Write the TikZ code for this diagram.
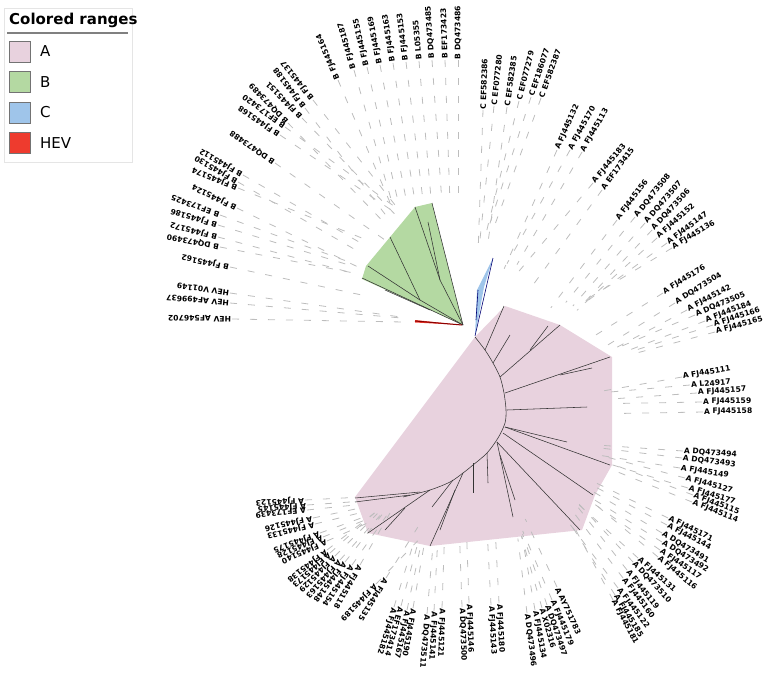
\documentclass[tikz,border=0pt]{standalone}
\usepackage{fontspec}
\setmainfont{DejaVu Sans}
\usetikzlibrary{calc}
\definecolor{cA}{HTML}{E8D2DE}
\definecolor{cB}{HTML}{B4D9A2}
\definecolor{cC}{HTML}{9FC5EA}
\definecolor{cH}{HTML}{EE3B2E}
\definecolor{leadc}{HTML}{BDBDBD}
\begin{document}
\begin{tikzpicture}[x=1pt,y=-1pt,
  lbl/.style={font=\bfseries\fontsize{7.6}{8}\selectfont, inner sep=0.8pt, anchor=west},
  leader/.style={draw=leadc, line width=0.8pt, dash pattern=on 7pt off 11pt},
  br/.style={draw=black!80, line width=0.55pt},
  swatch/.style={draw=black!55, line width=0.6pt, minimum size=21pt, inner sep=0pt},
  legtext/.style={anchor=west, font=\fontsize{15}{16}\selectfont, inner sep=0pt}
 ]
\useasboundingbox (0,0) rectangle (767,672);
% ---------------- colored ranges
\fill[cA] (475,337) -- (505,306) -- (560,325) -- (612,357) -- (612,465) -- (595,495) -- (582,530) -- (430,546) -- (368,533) -- (355,497) -- cycle;
\fill[cB] (463,325) -- (362,279) -- (366,266) -- (415,207) -- (432,203) -- cycle;
\fill[cC] (475,336) -- (477,290) -- (493,258) -- (484,287) -- cycle;
\fill[cH] (462,325) -- (415,320) -- (415,322.5) -- cycle;
% ---------------- labels
\foreach \px/\py/\a/\l/\t [count=\i] in {
483/110/88/135/C EF582386,
494/106/84/135/C EF077280,
507/107/82/135/C EF582385,
519/101/76/135/C EF077279,
531/97/72/135/C EF186077,
541/98/70/135/C EF582387,
557/150/66/130/A FJ445132,
570/150/61/130/A FJ445170,
582/152/60/130/A FJ445113,
593/183/50/120/A FJ445183,
602/190/54/120/A EF173415,
617/220/53/110/A FJ445156,
635/217/51/110/A DQ473508,
645/223/49/110/A DQ473507,
652/230/47/110/A DQ473506,
657/238/42/105/A FJ445152,
667/243/36/105/A FJ445147,
672/248/31/105/A FJ445136,
663/293/32/90/A FJ445176,
675/303/32/90/A DQ473504,
687/310/28/90/A FJ445142,
695/315/23/90/A DQ473505,
705/321/21/90/A FJ445184,
713/325/18/90/A FJ445166,
715/332/15/90/A FJ445165,
682/377/10/90/A FJ445111,
690/385/5/90/A L24917,
697/393/4/90/A FJ445157,
702/402/1/90/A FJ445159,
703/412/1/90/A FJ445158,
683/451/-4/90/A DQ473494,
682/458/-7/90/A DQ473493,
680/468/-9/90/A FJ445149,
685/478/-15/90/A FJ445127,
688/488/-17/90/A FJ445177,
693/495/-21/90/A FJ445115,
692/502/-22/90/A FJ445114,
668/518/-26/90/A FJ445171,
667/525/-28/90/A FJ445144,
662/533/-31/90/A DQ473491,
662/542/-32/90/A DQ473492,
660/550/-35/90/A FJ445117,
658/557/-40/90/A FJ445116,
638/558/-42/80/A FJ445131,
633/562/-47/80/A DQ473510,
627/570/-52/80/A FJ445119,
623/578/-53/80/A FJ445160,
618/588/-53/80/A FJ445122,
615/595/-58/80/A FJ445185,
613/600/-62/80/A FJ445181,
557/587/-65/75/A AY751783,
552/600/-67/75/A FJ445179,
547/605/-71/75/A DQ473497,
542/608/-74/75/A X02316,
535/610/-80/75/A FJ445134,
527/613/-83/75/A DQ473496,
499/603/-87/70/A FJ445180,
491/605/-87/70/A FJ445143,
469/603/-88/70/A FJ445146,
462/607/-88/70/A DQ473500,
442/608/-92/70/A FJ445121,
434/611/-93/70/A FJ445141,
427/614/-95/70/A DQ473511,
413/608/-100/70/A FJ445190,
407/610/-102/70/A FJ445167,
401/606/-105/70/A EF173414,
394/607/-107/70/A FJ445182,
386/578/-122/60/A FJ445135,
376/584/-134/60/A FJ445189,
360/565/240/60/A FJ445118,
352/565/235/60/A FJ445154,
345/562/232/60/A FJ445148,
340/560/228/60/A FJ445163,
335/556/225/60/A FJ445129,
330/553/222/60/A FJ445173,
327/550/218/60/A FJ445138,
327/541/204/50/A FJ445140,
323/537/202/50/A FJ445128,
320/533/200/50/A FJ445175,
315/524/194/50/A FJ445133,
313/518/192/50/A FJ445126,
307/510/186/50/A EF173439,
307/505/184/50/A FJ445145,
305/500/183/50/A FJ445123,
232/319/179/180/HEV AF546702,
230/303/175/180/HEV AF499637,
230/293/172/180/HEV V01149,
230/267/168/140/B FJ445162,
220/247/169/140/B DQ473490,
218/237/165/140/B FJ445172,
218/225/163/140/B FJ445186,
220/215/160/140/B EF173425,
237/208/154/140/B FJ445124,
238/188/158/140/B FJ445174,
238/182/150/140/B FJ445130,
243/175/150/140/B FJ445112,
275/163/145/140/B DQ473488,
280/135/146/140/B FJ445168,
285/127/144/140/B EF173420,
288/123/134/140/B DQ473489,
302/118/134/140/B FJ445151,
305/108/127/140/B FJ445188,
313/100/128/140/B FJ445137,
338/80/113/140/B FJ445164,
354/70/106/140/B FJ445187,
367/67/103/140/B FJ445155,
380/65/101/140/B FJ445169,
393/63/99/140/B FJ445163,
406/62/97/140/B FJ445153,
419/61/95/140/B L05355,
432/60/94/140/B DQ473485,
445/60/92/140/B EF173423,
458/60/90/140/B DQ473486%
}{
  \node[lbl, rotate=\a] (L\i) at (\px,\py) {\t};
  \draw[leader] (L\i.west) -- ($(L\i.west)!-\l pt!(L\i.east)$);
}
% ---------------- tree A
\draw[br] plot[smooth] coordinates {(475,337) (485,350) (493,363) (500,377) (504,393) (506,410) (505,423) (498,438) (487,453) (473,465) (463,473) (450,482) (430,490) (403,497)};
\draw[br] (485,350) -- (504,306);
\draw[br] (493,363) -- (510,335);
\draw[br] (500,377) -- (560,325);
\draw[br] (530,350) -- (548,326);
\draw[br] (505,393) -- (610,357);
\draw[br] (560,375) -- (592,368);
\draw[br] (507,410) -- (587,407);
\draw[br] (505,427) -- (567,442);
\draw[br] (505,427) -- (610,465);
\draw[br] (503,433) -- (593,495);
\draw[br] (497,442) -- (580,530);
\draw[br] (497,442) -- (513,517);
\draw[br] (500,455) -- (515,500);
\draw[br] (487,453) -- (488,483);
\draw[br] (473,463) -- (473,493);
\draw[br] (463,473) -- (430,546);
\draw[br] (455,490) -- (440,530);
\draw[br] (453,480) -- (432,507);
\draw[br] (430,490) -- (368,533);
\draw[br] (405,508) -- (385,530);
\draw[br] (420,492) -- (355,498);
\draw[br] (410,495) -- (355,502);
% ---------------- tree B
\draw[br] (463,325) -- (432,203);
\draw[br] (463,325) -- (440,280) -- (415,207);
\draw[br] (440,280) -- (428,222);
\draw[br] (463,325) -- (420,300) -- (390,237);
\draw[br] (420,300) -- (368,266);
\draw[br] (463,325) -- (362,278);
\draw[br] (430,310) -- (385,290);
% ---------------- tree C, HEV
\draw[draw=blue!45!black, line width=0.6pt] (475,336) -- (493,258);
\draw[draw=blue!45!black, line width=0.6pt] (476,320) -- (478,290);
\draw[draw=red!55!black, line width=1pt] (462,325) -- (415,321);
% ---------------- legend
\draw[draw=black!10, fill=white] (4,8) rectangle (132,162);
\node[anchor=west, font=\bfseries\fontsize{15}{16}\selectfont, inner sep=0pt] (title) at (9,20) {Colored ranges};
\draw[draw=black!50, line width=1.5pt] (7,33) -- (128,33);
\node[swatch, fill=cA] (sA) at (19.5,51.5) {};
\node[swatch, fill=cB] (sB) at (19.5,82) {};
\node[swatch, fill=cC] (sC) at (19.5,112.5) {};
\node[swatch, fill=cH] (sH) at (19.5,143) {};
\node[legtext] (tA) at (40,51.5) {A};
\node[legtext] (tB) at (40,82) {B};
\node[legtext] (tC) at (40,112.5) {C};
\node[legtext] (tH) at (40,143) {HEV};
\end{tikzpicture}
\end{document}
